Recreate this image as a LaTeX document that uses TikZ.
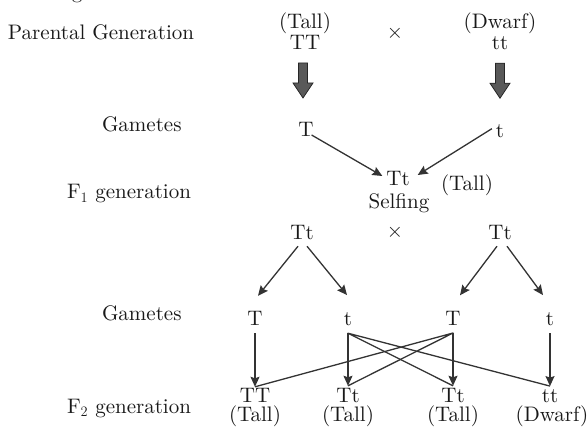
\documentclass[tikz,border=0pt]{standalone}
\usepackage{fontspec}
\setmainfont{lmroman10-regular.otf}
\usetikzlibrary{arrows.meta}
\begin{document}
\begin{tikzpicture}[x=1pt,y=-1pt,
  every node/.style={inner sep=0pt, outer sep=0pt, font=\fontsize{21}{25}\selectfont, text=black!90},
  lbl/.style={anchor=base west},
  txt/.style={anchor=base},
  arr/.style={draw=black!80, line width=1.3pt, -{Stealth[length=10pt,width=9pt,inset=1.5pt]}},
  ln/.style={draw=black!80, line width=1.3pt},
  fat/.style={fill=black!65, draw=black!85, line width=0.8pt, line join=miter}]
\useasboundingbox (0,0) rectangle (588,438);

% cut-off text at the top edge
\node[txt] (frag) at (77,-1) {g};

% parental generation
\node[lbl] (pg) at (8,40) {Parental Generation};
\node[txt] (pTall) at (305,29) {(Tall)};
\node[txt] (pTT) at (305,50) {TT};
\node (cross1) at (395,33) {$\times$};
\node[txt] (pDw) at (500,29) {(Dwarf)};
\node[txt] (ptt) at (500,50) {tt};

% gametes 1
\node[lbl] (gl1) at (102,132) {Gametes};
\node[txt] (gT) at (306,137) {T};
\node[txt] (gt) at (500,138) {t};

% thick arrows
\draw[fat] ([shift={(-6.5,13)}]pTT.south) -- ++(9,0) -- ++(0,20) -- ++(5.5,0) -- ++(-10,15) -- ++(-10,-15) -- ++(5.5,0) -- cycle;
\draw[fat] ([shift={(-4.5,13)}]ptt.south) -- ++(9,0) -- ++(0,20) -- ++(5.5,0) -- ++(-10,15) -- ++(-10,-15) -- ++(5.5,0) -- cycle;

% F1
\node[lbl] (f1l) at (67,199) {F$_1$ generation};
\node[txt] (f1) at (398,186) {Tt};
\node[txt] (self) at (399,208) {Selfing};
\node[txt] (f1tall) at (467,191) {(Tall)};
\node (cross2) at (395,232) {$\times$};
\node[txt] (sA) at (302,240) {Tt};
\node[txt] (sB) at (500,240) {Tt};

\draw[arr] ([shift={(-2,-2)}]gT.south east) -- ([shift={(-4,-3)}]f1.west);
\draw[arr] ([shift={(-4,-3)}]gt.west) -- ([shift={(8,-4)}]f1.east);

% gametes 2
\node[lbl] (gl2) at (102,320) {Gametes};
\node[txt] (g1) at (255,325) {T};
\node[txt] (g2) at (348,325) {t};
\node[txt] (g3) at (453,325) {T};
\node[txt] (g4) at (550,325) {t};

\draw[arr] ([shift={(-4,6)}]sA.south) -- ([shift={(3,-15)}]g1.north);
\draw[arr] ([shift={(5,6)}]sA.south) -- ([shift={(-1,-17)}]g2.north);
\draw[arr] ([shift={(-3,6)}]sB.south) -- ([shift={(7,-15.5)}]g3.north);
\draw[arr] ([shift={(7,6)}]sB.south) -- ([shift={(-7,-17)}]g4.north);

% F2
\node[lbl] (f2l) at (67,413) {F$_2$ generation};
\node[txt] (h1) at (255,402) {TT};
\node[txt] (h1t) at (255,421.5) {(Tall)};
\node[txt] (h2) at (348,402) {Tt};
\node[txt] (h2t) at (348,421.5) {(Tall)};
\node[txt] (h3) at (453,402) {Tt};
\node[txt] (h3t) at (453,421.5) {(Tall)};
\node[txt] (h4) at (550,402) {tt};
\node[txt] (h4t) at (552,421.5) {(Dwarf)};

\coordinate (s1) at ([shift={(0,8)}]g1.south);
\coordinate (s2) at ([shift={(0,8)}]g2.south);
\coordinate (s3) at ([shift={(0,8)}]g3.south);
\coordinate (s4) at ([shift={(0,8)}]g4.south);
\coordinate (e1) at ([shift={(0,-1)}]h1.north);
\coordinate (e2) at ([shift={(0,-2)}]h2.north);
\coordinate (e3) at ([shift={(0,-2)}]h3.north);
\coordinate (e4) at ([shift={(0,-3)}]h4.north);

\draw[arr] (s1) -- (e1);
\draw[arr] (s2) -- (e2);
\draw[arr] (s3) -- (e3);
\draw[arr] (s4) -- (e4);
\draw[ln, line join=round] (e3) -- (s2) -- (e4);
\draw[ln, line join=round] (e1) -- (s3) -- (e2);
\end{tikzpicture}
\end{document}
